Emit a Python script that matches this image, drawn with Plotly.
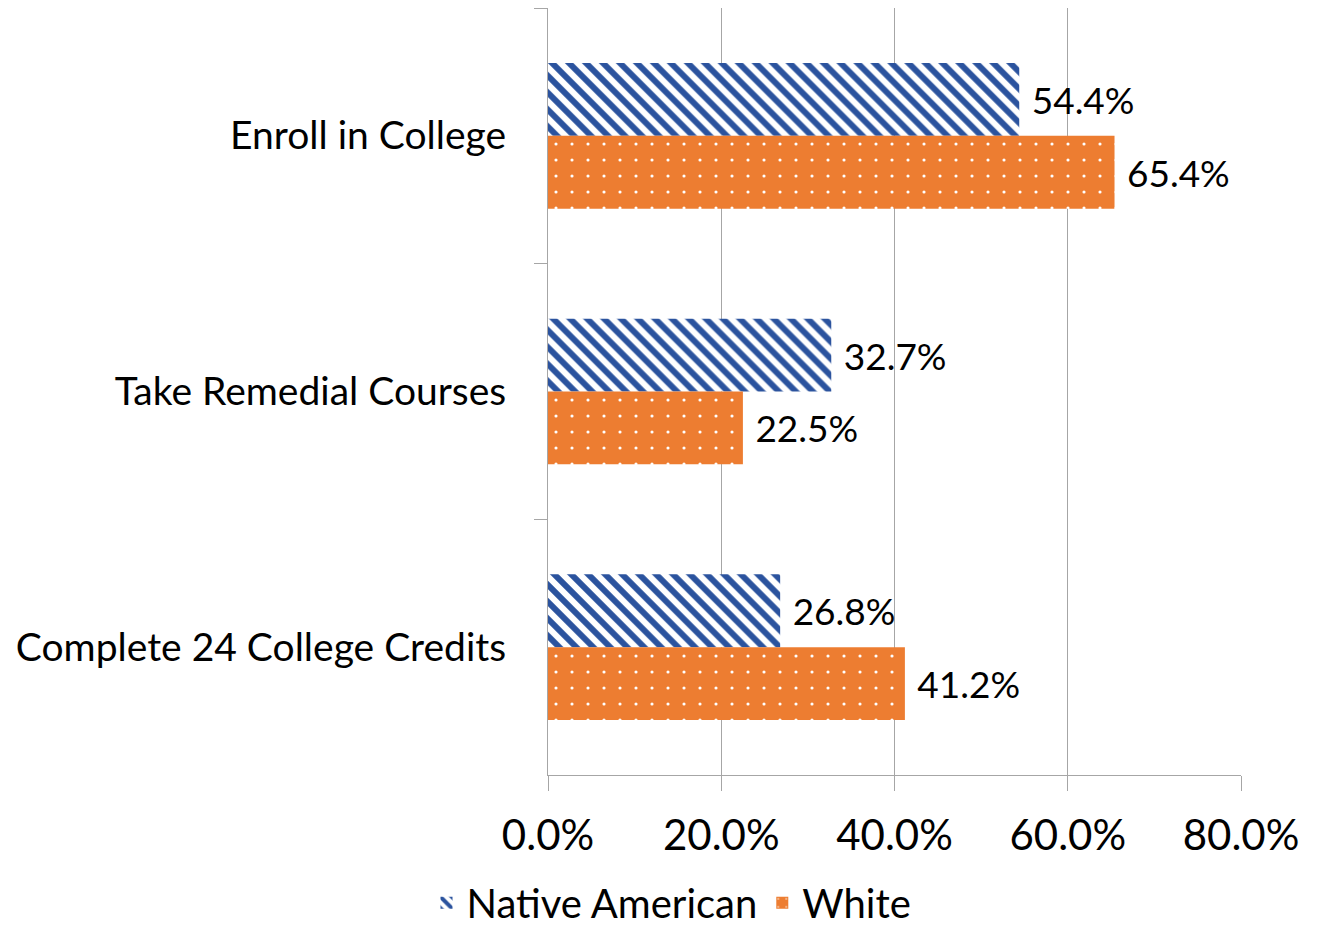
import plotly.graph_objects as go

categories = ["Enroll in College", "Take Remedial Courses", "Complete 24 College Credits"]
native_american = [54.4, 32.7, 26.8]
white = [65.4, 22.5, 41.2]
x_ticks = [0, 20, 40, 60, 80]

font = "Lato"
blue = "#2B539E"
orange = "#ED7D31"

fig = go.Figure()
fig.add_trace(go.Bar(
    y=categories, x=native_american, orientation="h", name="Native American",
    text=[f"\u00a0{v:.1f}%" for v in native_american], textposition="outside",
    marker=dict(color=blue,
                pattern=dict(shape="\\", fgcolor=blue, bgcolor="white",
                             fgopacity=1, size=12, solidity=0.5)),
    cliponaxis=False,
))
fig.add_trace(go.Bar(
    y=categories, x=white, orientation="h", name="White",
    text=[f"\u00a0{v:.1f}%" for v in white], textposition="outside",
    marker=dict(color=orange,
                pattern=dict(shape=".", fgcolor="white", bgcolor=orange,
                             fgopacity=1, size=16, solidity=0.03)),
    cliponaxis=False,
))

fig.update_traces(textfont=dict(size=37, color="black", family=font),
                  marker_line_width=0)

fig.update_layout(
    width=1327, height=937,
    margin=dict(l=540, r=94, t=0, b=170),
    plot_bgcolor="white", paper_bgcolor="white",
    barmode="group", bargap=0.43, bargroupgap=0,
    font=dict(family=font, color="black"),
    legend=dict(orientation="h", xref="container", x=0.5, xanchor="center",
                yref="container", y=0.045, yanchor="middle",
                font=dict(size=40), traceorder="normal"),
    xaxis=dict(range=[0, 80], tickvals=x_ticks,
               ticktext=[f"{v:.1f}%" for v in x_ticks],
               showgrid=True, gridcolor="#A6A6A6", gridwidth=1,
               showline=True, linecolor="#A6A6A6", linewidth=1,
               ticks="outside", ticklen=15, tickcolor="#A6A6A6",
               tickfont=dict(size=42), ticklabelstandoff=9,
               zeroline=False),
    yaxis=dict(categoryorder="array", categoryarray=categories, autorange="reversed",
               showline=True, linecolor="#A6A6A6", linewidth=1,
               ticks="outside", ticklen=13, tickcolor="#A6A6A6",
               tickson="boundaries", showgrid=False,
               tickfont=dict(size=39), ticklabelstandoff=33),
)

fig.write_html("out.html")
